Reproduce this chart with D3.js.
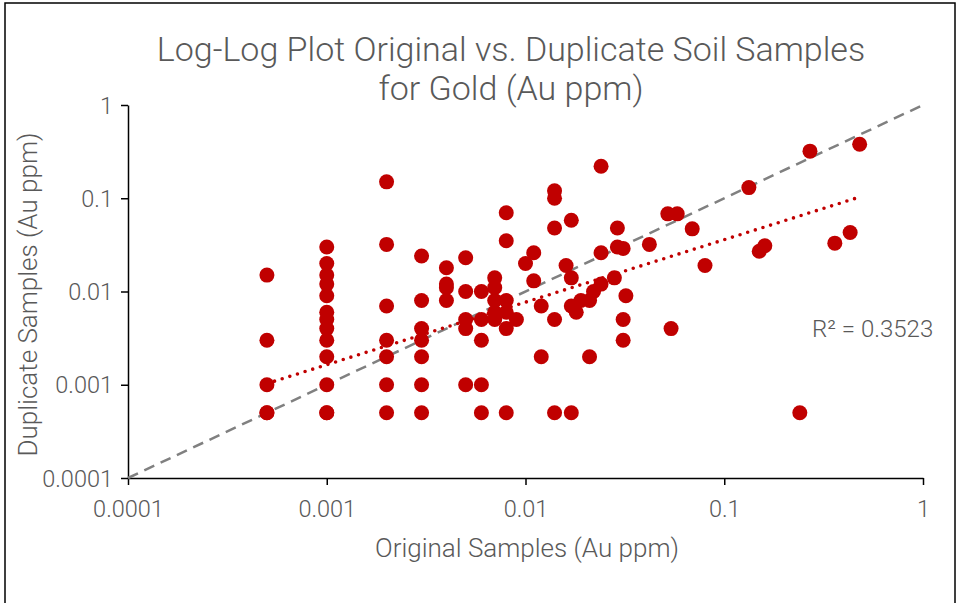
<!DOCTYPE html>
<html>
<head>
<meta charset="utf-8">
<script src="https://cdn.jsdelivr.net/npm/d3@7"></script>
<style>
  html, body { margin: 0; padding: 0; background: #fff; }
  svg { display: block; }
  text { font-family: Roboto, "Open Sans", sans-serif; font-weight: 300; fill: #595959; }
</style>
</head>
<body>
<svg id="chart" width="959" height="603"></svg>
<script>
// ---- Data (Au ppm) ----
const originalX = [
  0.0005,0.0005,0.0005,0.0005,0.0005,
  0.001,0.001,0.001,0.001,0.001,0.001,0.001,0.001,0.001,0.001,0.001,0.001,0.001,
  0.002,0.002,0.002,0.002,0.002,0.002,0.002,
  0.003,0.003,0.003,0.003,0.003,0.003,0.003,
  0.004,0.004,0.004,0.004,
  0.005,0.005,0.005,0.005,0.005,
  0.006,0.006,0.006,0.006,0.006,
  0.007,0.007,0.007,0.007,0.007,
  0.008,0.008,0.008,0.008,0.008,0.008,
  0.009,0.010,0.011,0.011,0.012,0.012,
  0.014,0.014,0.014,0.014,0.014,
  0.016,0.017,0.017,0.017,0.017,0.018,0.019,0.021,0.021,0.022,
  0.024,0.024,0.024,0.028,0.029,0.029,0.031,0.031,0.031,0.032,
  0.042,0.052,0.054,0.058,0.069,0.08,0.133,0.15,0.16,0.24,0.27,0.36,0.43,0.48
];
const duplicateY = [
  0.015,0.003,0.001,0.0005,0.0005,
  0.03,0.02,0.015,0.012,0.009,0.006,0.005,0.004,0.003,0.002,0.001,0.0005,0.0005,
  0.15,0.032,0.007,0.003,0.002,0.001,0.0005,
  0.024,0.008,0.004,0.003,0.002,0.001,0.0005,
  0.018,0.012,0.011,0.008,
  0.023,0.01,0.005,0.004,0.001,
  0.01,0.005,0.003,0.001,0.0005,
  0.014,0.011,0.008,0.006,0.005,
  0.07,0.035,0.008,0.006,0.004,0.0005,
  0.005,0.02,0.026,0.013,0.007,0.002,
  0.12,0.1,0.048,0.005,0.0005,
  0.019,0.058,0.014,0.007,0.0005,0.006,0.008,0.008,0.002,0.01,
  0.22,0.026,0.012,0.014,0.048,0.03,0.029,0.005,0.003,0.009,
  0.032,0.068,0.004,0.068,0.047,0.019,0.13,0.027,0.031,0.0005,0.32,0.033,0.043,0.38
];
const tickValues = [0.0001, 0.001, 0.01, 0.1, 1];
const tickLabels = ["0.0001", "0.001", "0.01", "0.1", "1"];
const oneToOneX = [0.0001, 1];
const oneToOneY = [0.0001, 1];
const trendX = [0.0005, 0.48];
const trendY = [0.00103, 0.103];
const rSquaredLabel = "R² = 0.3523";
const titleLines = ["Log-Log Plot Original vs. Duplicate Soil Samples", "for Gold (Au ppm)"];
const xTitle = "Original Samples (Au ppm)";
const yTitle = "Duplicate Samples (Au ppm)";

// ---- Layout ----
const svg = d3.select("#chart");
const plot = { left: 128, right: 923, top: 105, bottom: 478 };
const red = "#C00000";

svg.append("rect").attr("x", 5).attr("y", 3).attr("width", 950).attr("height", 620)
  .attr("fill", "#fff").attr("stroke", "#000").attr("stroke-width", 1.5);

const x = d3.scaleLog().domain([0.0001, 1]).range([plot.left, plot.right]);
const y = d3.scaleLog().domain([0.0001, 1]).range([plot.bottom, plot.top]);

// Axes
const xAxis = d3.axisBottom(x).tickValues(tickValues).tickFormat((d, i) => tickLabels[i]).tickSize(7).tickSizeOuter(0);
const yAxis = d3.axisLeft(y).tickValues(tickValues).tickFormat((d, i) => tickLabels[i]).tickSize(7).tickSizeOuter(0);

const gx = svg.append("g").attr("transform", `translate(0,${plot.bottom})`).call(xAxis);
const gy = svg.append("g").attr("transform", `translate(${plot.left},0)`).call(yAxis);
[gx, gy].forEach(g => {
  g.select(".domain").attr("stroke", "#000").attr("stroke-width", 1.5);
  g.selectAll(".tick line").attr("stroke", "#000").attr("stroke-width", 1.5);
  g.selectAll(".tick text").attr("font-size", 23.5).attr("font-family", "Roboto, sans-serif")
    .attr("font-weight", 300).attr("fill", "#595959");
});
gx.selectAll(".tick text").attr("dy", "0").attr("y", 39);
gy.selectAll(".tick text").attr("x", -15).attr("dy", "0.35em");

// 1:1 dashed line
const line = d3.line().x(d => x(d[0])).y(d => y(d[1]));
svg.append("path")
  .datum(oneToOneX.map((v, i) => [v, oneToOneY[i]]))
  .attr("d", line).attr("fill", "none")
  .attr("stroke", "#808080").attr("stroke-width", 2.5).attr("stroke-dasharray", "11,7");

// Points
svg.append("g").selectAll("circle")
  .data(originalX.map((v, i) => [v, duplicateY[i]]))
  .join("circle")
  .attr("cx", d => x(d[0])).attr("cy", d => y(d[1])).attr("r", 7.5)
  .attr("fill", red);

// Trend line (dotted)
svg.append("path")
  .datum(trendX.map((v, i) => [v, trendY[i]]))
  .attr("d", line).attr("fill", "none")
  .attr("stroke", red).attr("stroke-width", 3.6)
  .attr("stroke-linecap", "round").attr("stroke-dasharray", "0,8");

// R² label
svg.append("text").attr("x", 812).attr("y", 337).attr("font-size", 24).text(rSquaredLabel);

// Titles
const title = svg.append("text").attr("text-anchor", "middle").attr("font-size", 34);
titleLines.forEach((t, i) => {
  title.append("tspan").attr("x", 511).attr("y", 61 + i * 39).text(t);
});
svg.append("text").attr("text-anchor", "middle").attr("x", 527).attr("y", 557)
  .attr("font-size", 26).text(xTitle);
svg.append("text").attr("text-anchor", "middle")
  .attr("transform", `translate(37,${(plot.top + plot.bottom) / 2 + 3}) rotate(-90)`)
  .attr("font-size", 26).text(yTitle);
</script>
</body>
</html>
